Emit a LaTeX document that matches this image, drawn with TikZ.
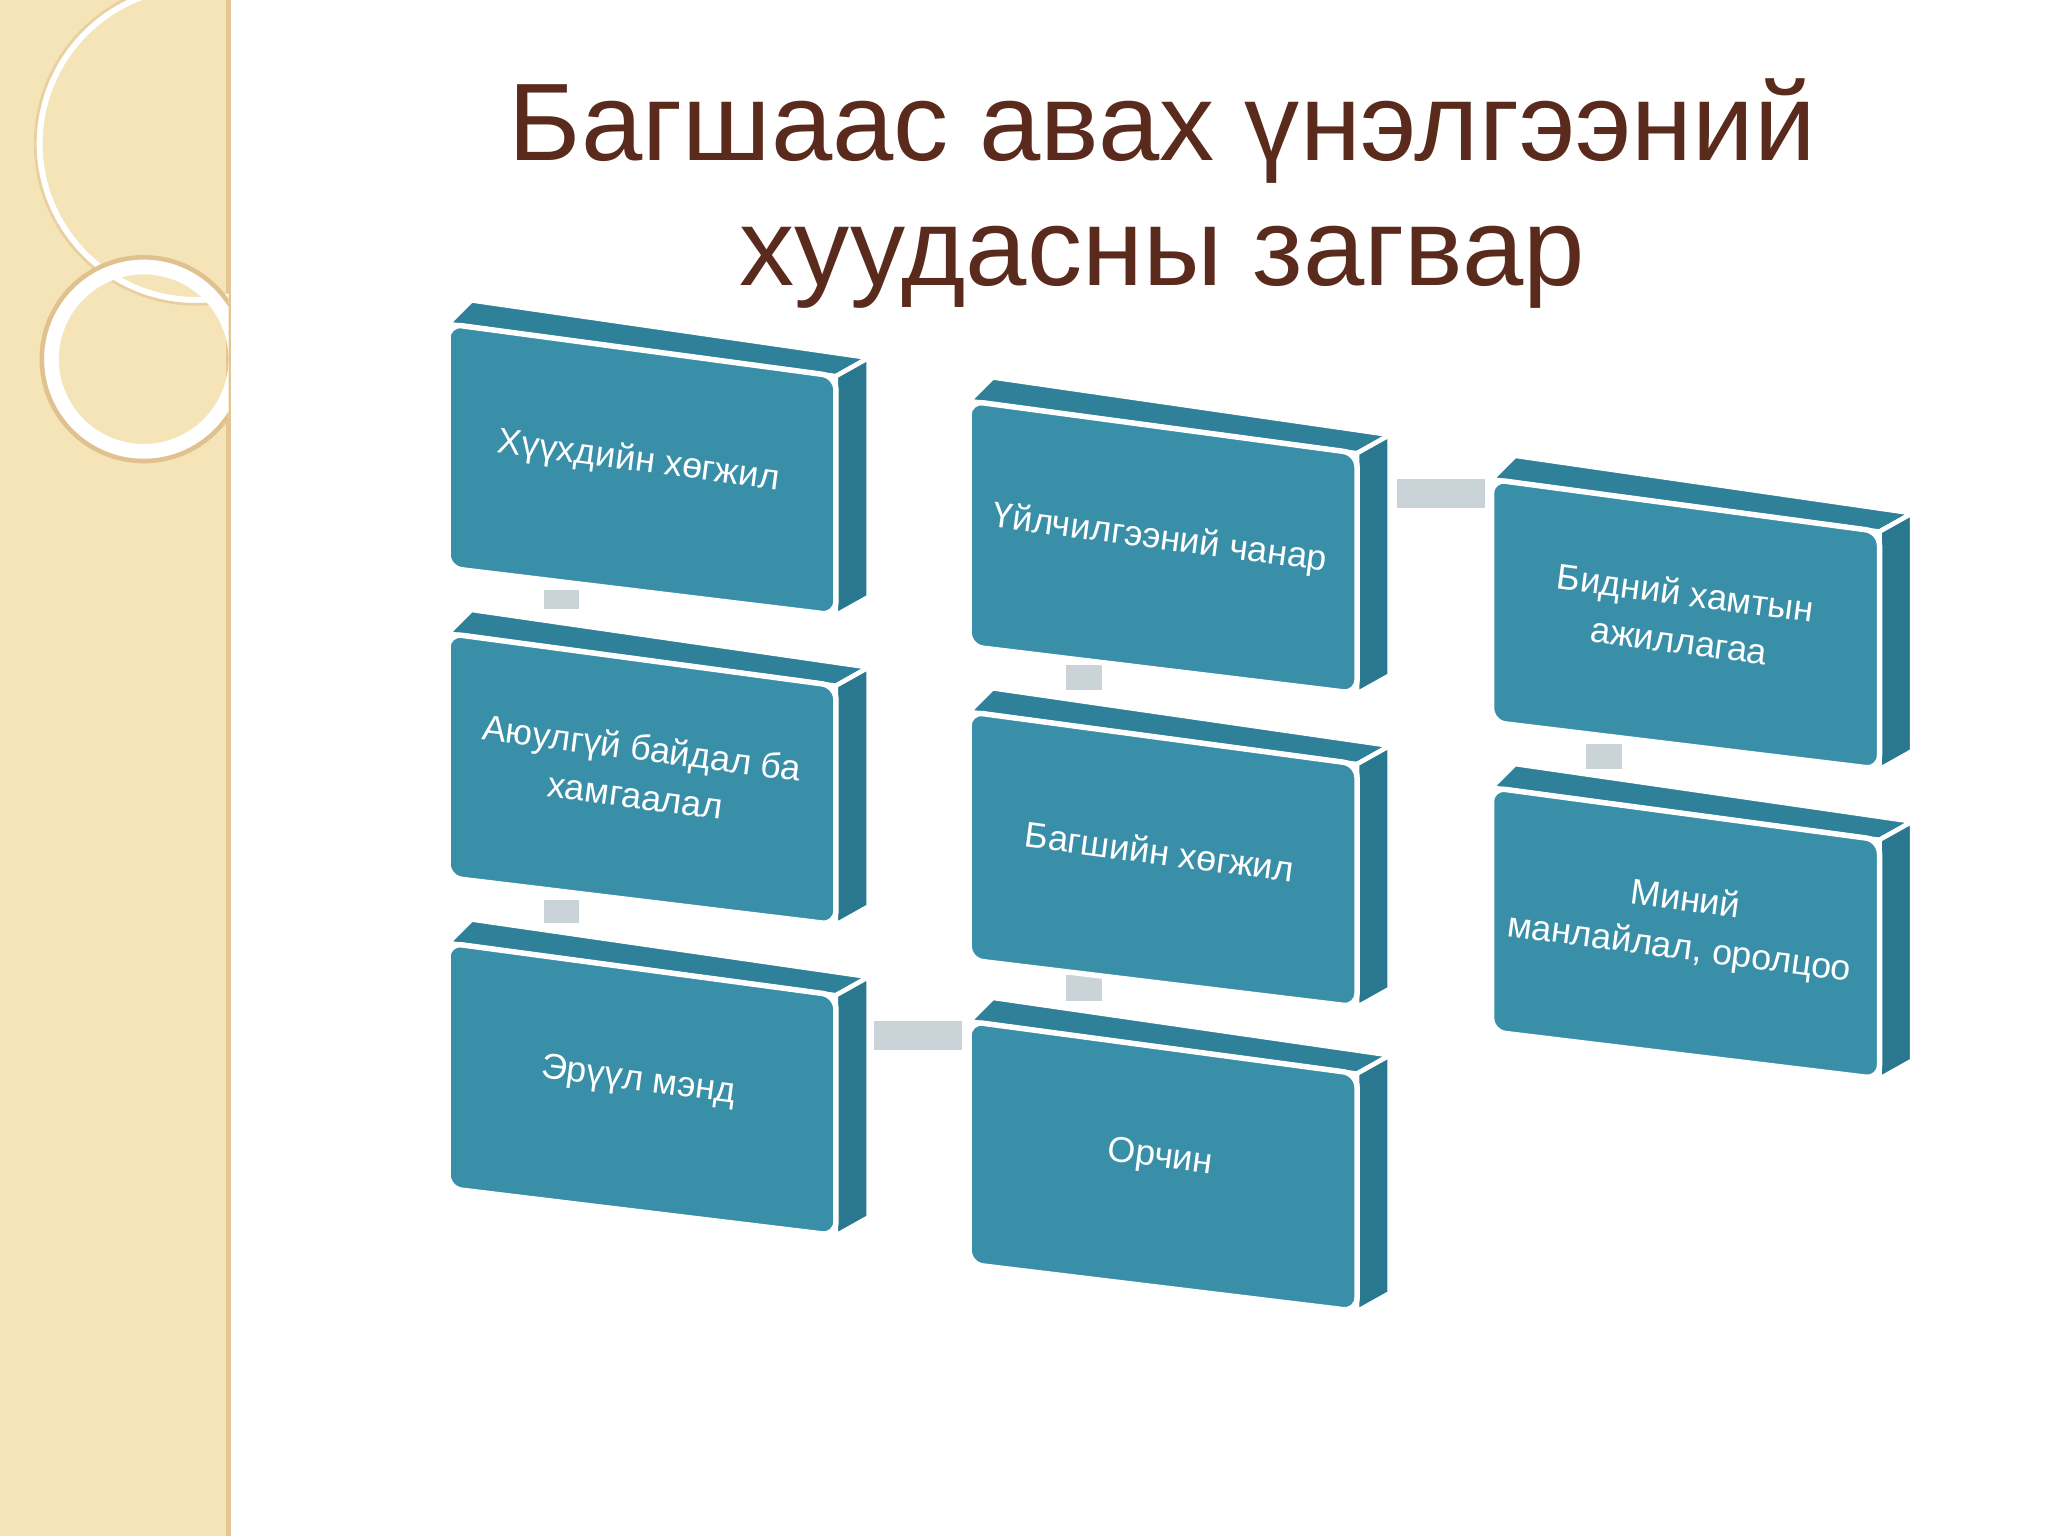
\documentclass[tikz,border=0pt]{standalone}
\usepackage{fontspec}
\setmainfont{Liberation Sans}
\begin{document}
\begin{tikzpicture}[x=0.01cm,y=-0.01cm,
  front/.style={fill=boxfront,draw=white,line width=1.2pt,rounded corners=3pt},
  topf/.style={fill=boxtop,draw=white,line width=1pt},
  sidef/.style={fill=boxside,draw=white,line width=1pt},
  conn/.style={fill=conngray,draw=white,line width=0.8pt},
  lbl/.style={text=white,font=\fontsize{7.8}{10.5}\selectfont,align=center,rotate=-7.5}]
\definecolor{boxfront}{HTML}{3A8FA8}
\definecolor{boxtop}{HTML}{2F8099}
\definecolor{boxside}{HTML}{2A7890}
\definecolor{conngray}{HTML}{C9D3D8}
\definecolor{titlec}{HTML}{5A2A1C}
\definecolor{beige}{HTML}{F4E4B8}
\useasboundingbox (0,0) rectangle (1568,1176);
\fill[white] (0,0) rectangle (1568,1176);
\fill[beige] (0,0) rectangle (175,1176);
\draw[beige!70!brown,line width=1pt] (175,0) -- (175,1176);
\begin{scope}
\clip (0,0) rectangle (175,1176);
\draw[white,line width=1.5pt] (150,110) circle (120);
\draw[beige!80!brown,line width=0.6pt] (150,110) circle (123);
\draw[white,line width=4pt] (110,275) circle (72);
\draw[beige!65!brown,line width=1pt] (110,275) circle (78);
\end{scope}
\node[text=titlec,font=\fontsize{24}{28}\selectfont] (t1) at (890,100) {Багшаас авах үнэлгээний};
\node[text=titlec,font=\fontsize{24}{28}\selectfont] (t2) at (890,205) {хуудасны загвар};
% connectors
\draw[conn] (415,450) rectangle (445,468);
\draw[conn] (415,688) rectangle (445,708);
\draw[conn] (815,508) rectangle (845,530);
\draw[conn] (815,745) rectangle (845,768);
\draw[conn] (668,780) rectangle (738,805);
\draw[conn] (1068,365) rectangle (1138,390);
\draw[conn] (1213,568) rectangle (1243,590);
% boxes
\foreach \xl/\yt/\yb/\nm/\txt in {
 343/248/435/b1/{Хүүхдийн хөгжил},
 343/485/672/b2/{Аюулгүй байдал ба\\хамгаалал},
 343/722/910/b3/{Эрүүл мэнд},
 742/307/495/b4/{Үйлчилгээний чанар},
 742/545/735/b5/{Багшийн хөгжил},
 742/782/968/b6/{Орчин},
 1142/367/553/b7/{Бидний хамтын\\ажиллагаа},
 1142/603/790/b8/{Миний\\манлайлал, оролцоо}} {
  \pgfmathsetmacro\xr{\xl+297}
  \pgfmathsetmacro\ytr{\yt+40}
  \pgfmathsetmacro\ybr{\yb+36}
  \draw[topf] (\xl,\yt) -- (\xl+18,\yt-18) -- (\xr+25,\ytr-14) -- (\xr,\ytr) -- cycle;
  \draw[sidef] (\xr,\ytr) -- (\xr+25,\ytr-14) -- (\xr+25,\ybr-14) -- (\xr,\ybr) -- cycle;
  \draw[front] (\xl,\yt) -- (\xr,\ytr) -- (\xr,\ybr) -- (\xl,\yb) -- cycle;
  \node[lbl] (\nm) at ({\xl+146},{(\yt+\yb+40)/2-8}) {\txt};
}
\end{tikzpicture}
\end{document}
